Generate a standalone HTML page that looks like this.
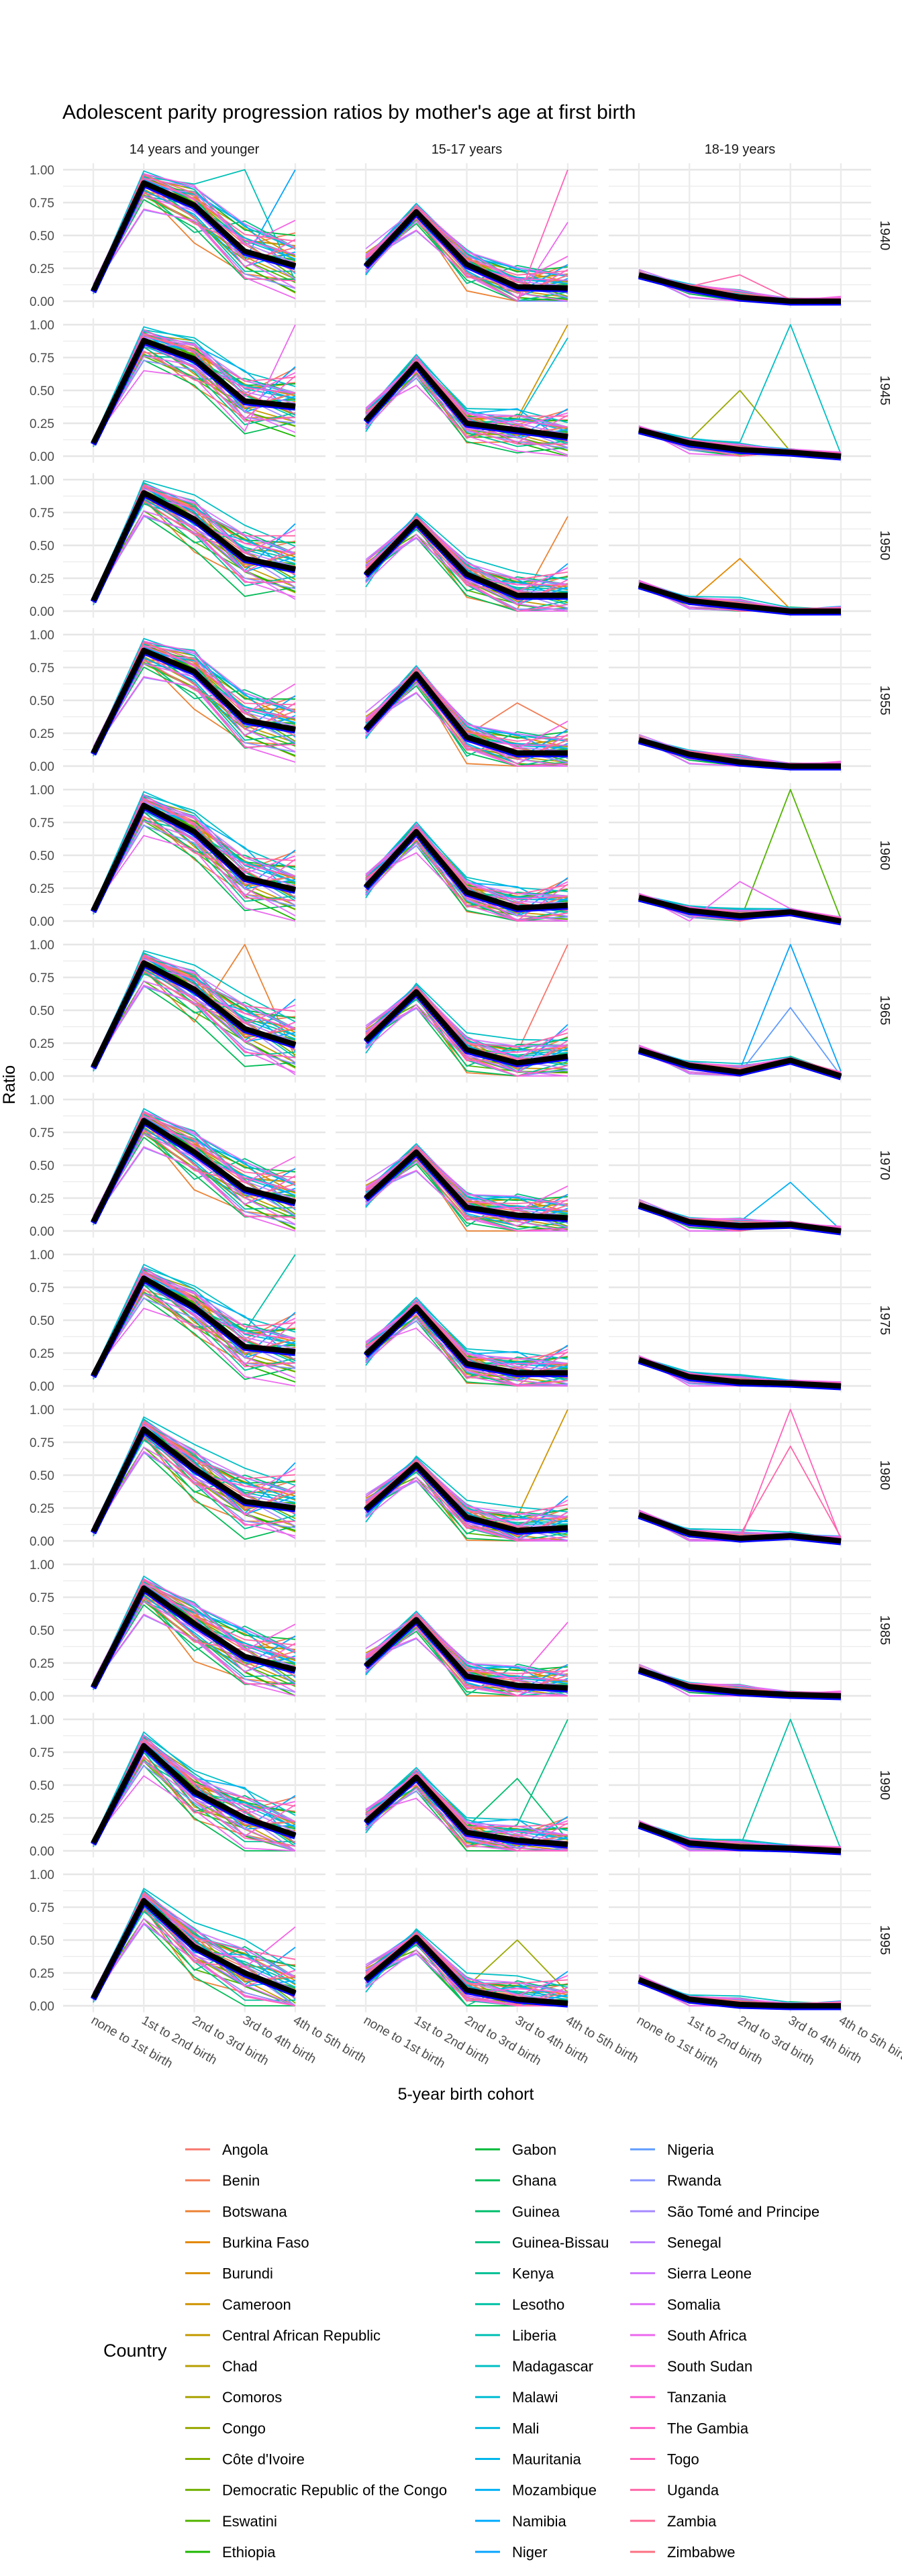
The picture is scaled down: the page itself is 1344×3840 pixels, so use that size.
<!DOCTYPE html>
<html><head><meta charset="utf-8"><title>Adolescent parity progression ratios</title>
<style>
html,body{margin:0;padding:0;background:#fff;}
svg{display:block;font-family:"Liberation Sans",Arial,sans-serif;}
</style></head>
<body>
<svg id="chart" width="1344" height="3840" viewBox="0 0 1344 3840" xmlns="http://www.w3.org/2000/svg">
<text x="93" y="177" font-size="30" fill="#000">Adolescent parity progression ratios by mother's age at first birth</text>
<text x="694" y="3130" font-size="25" text-anchor="middle" fill="#000">5-year birth cohort</text>
<text transform="translate(22,1617) rotate(-90)" font-size="25" text-anchor="middle" fill="#000">Ratio</text>
<text x="154" y="3513" font-size="27" fill="#000">Country</text>
</svg>
<script>
// ---- data ----
const ageGroups = ["14 years and younger", "15-17 years", "18-19 years"];
const cohorts = ["1940","1945","1950","1955","1960","1965","1970","1975","1980","1985","1990","1995"];
const transitions = ["none to 1st birth","1st to 2nd birth","2nd to 3rd birth","3rd to 4th birth","4th to 5th birth"];
const yTicks = [0, 0.25, 0.5, 0.75, 1];
const yTickLabels = ["0.00","0.25","0.50","0.75","1.00"];
const countries = ["Angola","Benin","Botswana","Burkina Faso","Burundi","Cameroon","Central African Republic","Chad","Comoros","Congo","Côte d'Ivoire","Democratic Republic of the Congo","Eswatini","Ethiopia","Gabon","Ghana","Guinea","Guinea-Bissau","Kenya","Lesotho","Liberia","Madagascar","Malawi","Mali","Mauritania","Mozambique","Namibia","Niger","Nigeria","Rwanda","São Tomé and Principe","Senegal","Sierra Leone","Somalia","South Africa","South Sudan","Tanzania","The Gambia","Togo","Uganda","Zambia","Zimbabwe"];
// mean ratios per age group (rows = cohorts)
const meanYoung = [
[0.08,0.90,0.73,0.38,0.27],[0.10,0.88,0.74,0.42,0.38],[0.08,0.90,0.70,0.40,0.32],
[0.10,0.88,0.72,0.35,0.28],[0.08,0.88,0.68,0.33,0.24],[0.07,0.86,0.66,0.36,0.24],
[0.07,0.84,0.60,0.32,0.22],[0.08,0.82,0.60,0.30,0.26],[0.07,0.85,0.55,0.30,0.25],
[0.07,0.82,0.55,0.30,0.20],[0.06,0.80,0.45,0.25,0.12],[0.06,0.80,0.45,0.25,0.10]];
const meanMid = [
[0.27,0.68,0.28,0.11,0.10],[0.27,0.70,0.25,0.20,0.15],[0.28,0.68,0.28,0.12,0.12],
[0.28,0.70,0.22,0.10,0.10],[0.26,0.68,0.22,0.10,0.12],[0.27,0.64,0.20,0.10,0.15],
[0.25,0.60,0.18,0.12,0.10],[0.24,0.60,0.17,0.10,0.10],[0.24,0.58,0.18,0.08,0.10],
[0.23,0.58,0.15,0.08,0.06],[0.22,0.56,0.14,0.08,0.05],[0.20,0.52,0.12,0.05,0.02]];
const meanOld = [
[0.20,0.10,0.03,0,0],[0.20,0.10,0.05,0.03,0],[0.20,0.08,0.04,0,0],
[0.20,0.09,0.03,0,0],[0.18,0.08,0.04,0.07,0],[0.20,0.08,0.03,0.12,0],
[0.20,0.07,0.04,0.05,0],[0.20,0.07,0.03,0.02,0],[0.20,0.06,0.02,0.04,0],
[0.20,0.07,0.03,0.01,0],[0.20,0.06,0.03,0.02,0],[0.20,0.05,0.01,0,0]];
// country deviations from the mean (estimated spread)
const countryDev = [
[0.01,0.05,0.08,0.10,0.18],[-0.02,-0.08,0.02,0.05,0.25],[0.00,-0.05,-0.25,-0.15,-0.10],[0.02,-0.03,0.06,0.12,0.08],
[-0.01,0.02,-0.10,-0.05,0.03],[0.03,-0.06,0.05,0.15,0.06],[0.01,0.03,0.10,-0.05,-0.12],[0.00,0.04,0.12,0.08,0.15],
[-0.02,-0.04,-0.08,-0.10,-0.18],[0.02,0.06,0.03,-0.06,0.10],[-0.01,-0.09,-0.12,-0.02,0.05],[0.01,0.02,0.04,0.06,-0.08],
[0.02,-0.12,-0.15,-0.08,-0.15],[-0.02,0.05,0.02,-0.12,-0.20],[0.01,-0.02,0.09,0.14,0.20],[0.00,-0.15,-0.20,-0.25,-0.12],
[0.02,0.07,0.05,0.00,0.04],[-0.01,-0.06,-0.18,0.20,0.12],[0.03,0.01,-0.10,-0.18,-0.05],[0.02,-0.10,0.00,0.10,0.08],
[0.01,0.04,0.14,0.05,-0.10],[-0.03,0.08,0.16,0.22,0.15],[0.02,0.09,0.12,0.08,0.05],[-0.02,-0.01,0.07,0.18,0.11],
[0.03,0.05,-0.04,0.12,0.06],[0.01,0.06,0.09,0.20,-0.06],[-0.01,-0.05,-0.06,-0.10,0.09],[0.02,0.03,0.05,-0.08,0.30],
[-0.02,0.02,-0.02,-0.04,0.02],[0.01,-0.18,-0.10,-0.15,-0.15],[-0.01,0.01,-0.06,0.02,-0.12],[0.03,-0.04,0.10,0.06,0.02],
[0.04,0.03,0.12,0.18,0.12],[-0.02,-0.12,-0.05,-0.08,-0.20],[0.02,-0.20,-0.12,-0.20,-0.25],[0.00,0.06,0.13,0.04,0.30],
[0.03,0.02,-0.03,0.10,0.10],[-0.01,0.07,0.04,-0.12,0.20],[0.02,-0.02,-0.08,-0.18,-0.10],[0.01,0.04,0.06,0.15,0.22],
[0.02,-0.07,-0.14,0.05,-0.05],[0.00,0.05,0.08,-0.06,0.12]];
// outliers: [cohortIdx, ageIdx, countryIdx, transitionIdx, value]
const outliers = [
[0,0,20,3,1.0],[0,0,27,4,1.0],[0,1,38,4,1.0],[0,1,34,4,0.6],[0,2,39,2,0.2],
[1,0,34,4,1.0],[1,1,5,4,1.0],[1,1,22,4,0.9],[1,2,21,3,1.0],[1,2,9,2,0.5],
[2,1,2,4,0.72],[2,2,3,2,0.4],[3,1,1,3,0.48],[4,2,12,3,1.0],[4,2,34,2,0.3],
[5,0,2,3,1.0],[5,1,0,4,1.0],[5,2,27,3,1.0],[5,2,28,3,0.52],[6,2,25,3,0.37],
[7,0,19,4,1.0],[8,1,5,4,1.0],[8,2,38,3,1.0],[8,2,39,3,0.72],[9,1,35,4,0.56],
[10,1,17,4,1.0],[10,1,16,3,0.55],[10,2,19,3,1.0],[11,0,35,4,0.6],[11,1,9,3,0.5]];
const means = [meanYoung, meanMid, meanOld];

// ---- layout ----
const svg = document.getElementById('chart');
const NS = 'http://www.w3.org/2000/svg';
const panelLeft = [94, 500, 907];
const panelW = 391;
const rowTop0 = 243.2, rowStep = 231, panelH = 215.6;
function xPos(col, i){ return panelLeft[col] + 45 + 75.25 * i; }
function yPos(row, v){ return rowTop0 + rowStep*row + 9.8 + (1 - v) * 196; }

function hcl2hex(h){
  const L=65, C=100;
  const hr=h*Math.PI/180, u=C*Math.cos(hr), v=C*Math.sin(hr);
  const Y=Math.pow((L+16)/116,3);
  const un=0.19783, vn=0.46832;
  const up=u/(13*L)+un, vp=v/(13*L)+vn;
  const X=Y*9*up/(4*vp), Z=Y*(12-3*up-20*vp)/(4*vp);
  let r= 3.2406*X-1.5372*Y-0.4986*Z, g=-0.9689*X+1.8758*Y+0.0415*Z, b=0.0557*X-0.2040*Y+1.0570*Z;
  const gam=c=>{c=c<=0.0031308?12.92*c:1.055*Math.pow(c,1/2.4)-0.055;return Math.round(Math.max(0,Math.min(1,c))*255);};
  return '#'+[gam(r),gam(g),gam(b)].map(x=>x.toString(16).padStart(2,'0')).join('');
}
const colors = countries.map((c,i)=>hcl2hex(15+360*i/42));

function mk(tag, attrs, parent){
  const e=document.createElementNS(NS,tag);
  for(const k in attrs) e.setAttribute(k,attrs[k]);
  (parent||svg).appendChild(e);
  return e;
}

ageGroups.forEach((g,c)=>{
  const t=mk('text',{x:panelLeft[c]+panelW/2,y:229,'font-size':20,'text-anchor':'middle',fill:'#1a1a1a'});
  
  
  t.textContent=g;
});

cohorts.forEach((coh,r)=>{
  const cy=rowTop0+rowStep*r+panelH/2;
  const rl=mk('text',{transform:`translate(1312,${cy}) rotate(90)`,'font-size':20,'text-anchor':'middle',fill:'#1a1a1a'});
  
  
  rl.textContent=coh;
  yTicks.forEach((v,i)=>{
    const t=mk('text',{x:81,y:yPos(r,v)+7,'font-size':19,'text-anchor':'end',fill:'#4d4d4d'});
    
    
    t.textContent=yTickLabels[i];
  });
  ageGroups.forEach((g,c)=>{
    const top=rowTop0+rowStep*r;
    const grp=mk('g',{});
    
    
    [0.125,0.375,0.625,0.875].forEach(v=>{
      mk('line',{x1:panelLeft[c],x2:panelLeft[c]+panelW,y1:yPos(r,v),y2:yPos(r,v),stroke:'#ebebeb','stroke-width':1.2},grp);
    });
    yTicks.forEach(v=>{
      mk('line',{x1:panelLeft[c],x2:panelLeft[c]+panelW,y1:yPos(r,v),y2:yPos(r,v),stroke:'#e6e6e6','stroke-width':2.4},grp);
    });
    transitions.forEach((tr,i)=>{
      mk('line',{x1:xPos(c,i),x2:xPos(c,i),y1:top,y2:top+panelH,stroke:'#ebebeb','stroke-width':2.4},grp);
    });
    const m=means[c][r];
    const firstMult=[1,4,2.5][c];
    countries.forEach((cn,k)=>{
      const spread = c===2 ? 0.35 : (c===1 ? 0.7 : 1);
      const vals=m.map((v,i)=>{
        let d=countryDev[k][i]*spread*(1+0.15*((r+k)%3-1));
        if(i===0) d*=firstMult;
        let val=v+d;
        if(c===2 && i>=3) val=v+Math.abs(d)*0.3;
        return Math.max(0,Math.min(1,val));
      });
      outliers.forEach(o=>{ if(o[0]===r&&o[1]===c&&o[2]===k) vals[o[3]]=o[4]; });
      const p=mk('polyline',{points:vals.map((v,i)=>xPos(c,i)+','+yPos(r,v)).join(' '),fill:'none',stroke:colors[k],'stroke-width':1.8,'stroke-linejoin':'round'},grp);
      
      
    });
    const bl=mk('polyline',{points:m.map((v,i)=>xPos(c,i)+','+(yPos(r,v)+2)).join(' '),fill:'none',stroke:'#0000ff','stroke-width':9,'stroke-linejoin':'round'},grp);
    
    
    const k2=mk('polyline',{points:m.map((v,i)=>xPos(c,i)+','+yPos(r,v)).join(' '),fill:'none',stroke:'#000','stroke-width':8,'stroke-linejoin':'round'},grp);
    
    
  });
});

ageGroups.forEach((g,c)=>{
  transitions.forEach((tr,i)=>{
    const t=mk('text',{transform:`translate(${xPos(c,i)+2},${3004}) rotate(30)`,'font-size':19,fill:'#4d4d4d','dominant-baseline':'hanging'});
    
    
    t.textContent=tr;
  });
});

const legX=[276,708,939];
countries.forEach((cn,k)=>{
  const col=Math.floor(k/14), row=k%14;
  const y=3204+row*46.15;
  const ln=mk('line',{x1:legX[col],x2:legX[col]+37,y1:y,y2:y,stroke:colors[k],'stroke-width':3});
  
  
  const t=mk('text',{x:legX[col]+55,y:y+8,'font-size':22,fill:'#000'});
  
  
  t.textContent=cn;
});
</script>
</body></html>
